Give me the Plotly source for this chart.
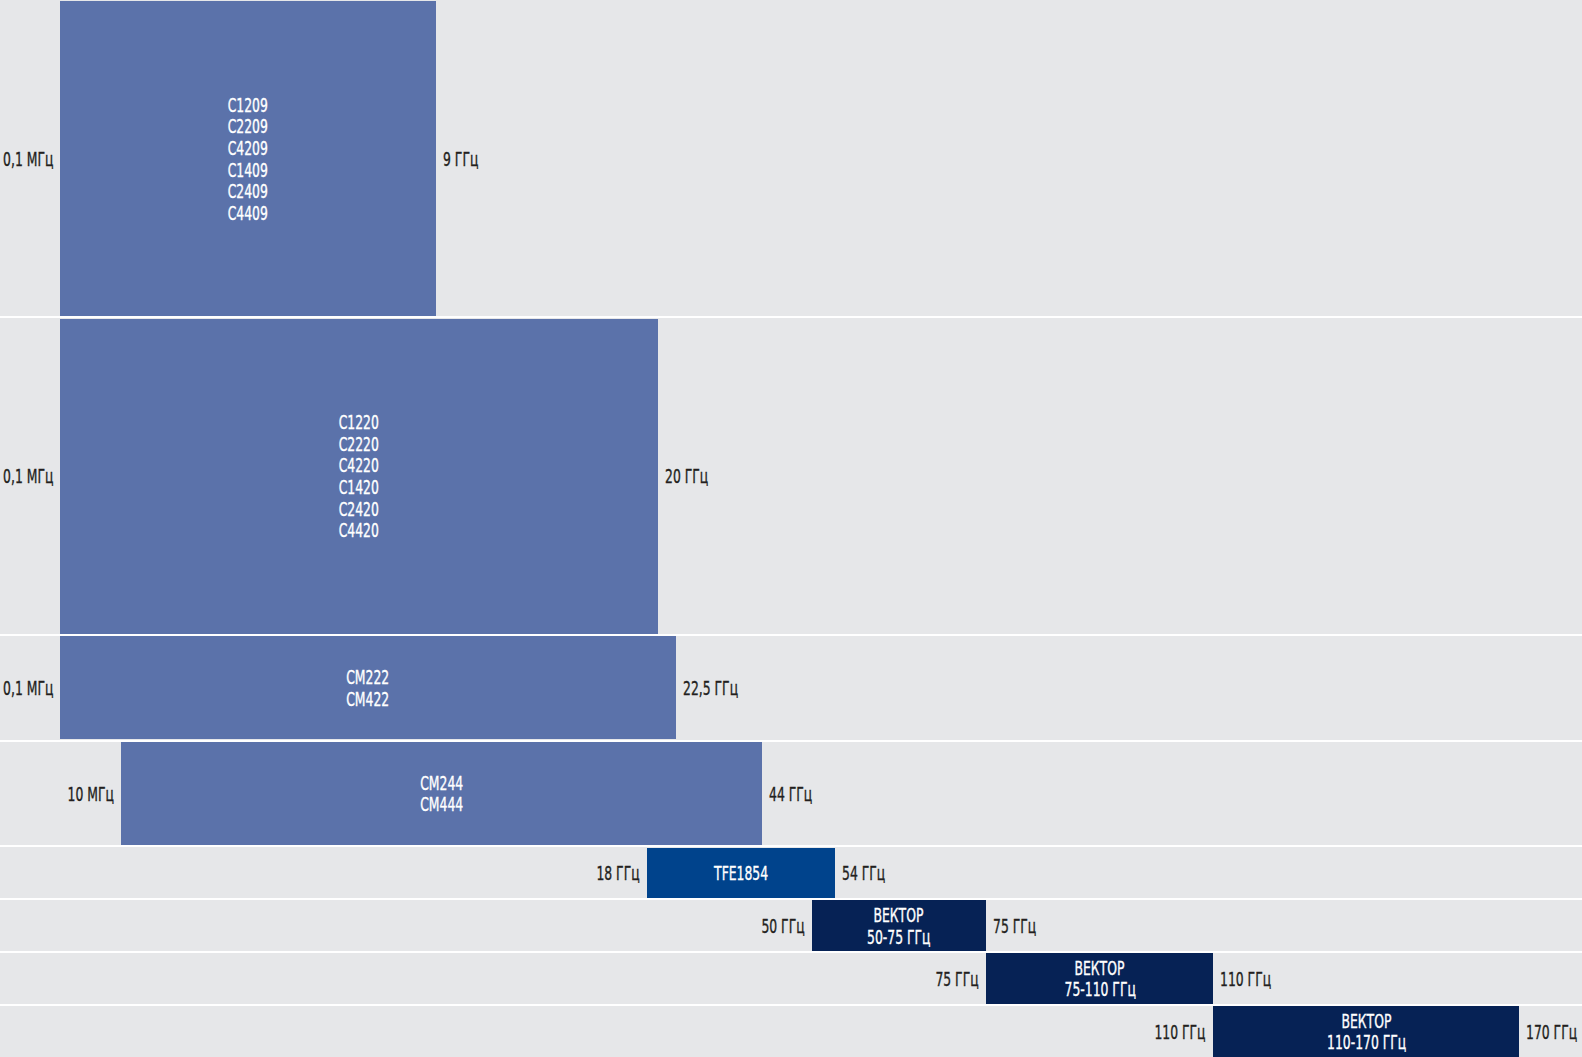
import json
import plotly.graph_objects as go

# ---- data ----
models = [
    "C1209<br>C2209<br>C4209<br>C1409<br>C2409<br>C4409",
    "C1220<br>C2220<br>C4220<br>C1420<br>C2420<br>C4420",
    "CM222<br>CM422",
    "CM244<br>CM444",
    "TFE1854",
    "ВЕКТОР<br>50-75 ГГц",
    "ВЕКТОР<br>75-110 ГГц",
    "ВЕКТОР<br>110-170 ГГц",
]
freq_low = ["0,1 МГц", "0,1 МГц", "0,1 МГц", "10 МГц", "18 ГГц", "50 ГГц", "75 ГГц", "110 ГГц"]
freq_high = ["9 ГГц", "20 ГГц", "22,5 ГГц", "44 ГГц", "54 ГГц", "75 ГГц", "110 ГГц", "170 ГГц"]
# band extents on the chart's (non-linear) layout scale
band_start = [59.5, 59.5, 59.5, 121, 647, 811.5, 986, 1213]
band_end = [436, 658, 676, 762, 835, 986, 1213, 1519]
group = ["base", "base", "base", "base", "tfe", "vektor", "vektor", "vektor"]

# ---- layout / style ----
ROW_UNITS = [6, 6, 2, 2, 1, 1, 1, 1]
COLORS = {"base": "#5b72aa", "tfe": "#00438c", "vektor": "#062255"}
BG = "#e6e7e9"
FONT = "DejaVu Sans Condensed, DejaVu Sans, sans-serif"
FSIZE = 19
SCALE_X = 0.725  # condense glyphs horizontally to match the narrow face
W, H = 1582, 1057
PX_PER_UNIT = 52.9
LINE_H = 21.6

centers, bounds = [], [0]
acc = 0
for u in ROW_UNITS:
    centers.append(acc + u / 2)
    acc += u
    bounds.append(acc)

widths = [u - 0.045 for u in ROW_UNITS]
lengths = [e - s for s, e in zip(band_start, band_end)]

fig = go.Figure(
    go.Bar(
        orientation="h",
        y=centers,
        x=lengths,
        base=band_start,
        width=widths,
        marker=dict(color=[COLORS[g] for g in group], line=dict(width=0)),
        hoverinfo="skip",
    )
)

annotations = []
origins = []
for i in range(len(models)):
    lines = models[i].split("<br>")
    n = len(lines)
    mid = (band_start[i] + band_end[i]) / 2
    for k, ln in enumerate(lines):
        annotations.append(dict(
            x=mid, y=centers[i], xref="x", yref="y", text=ln, showarrow=False,
            xanchor="center", yanchor="middle", yshift=-(k - (n - 1) / 2) * LINE_H,
            font=dict(family=FONT, size=FSIZE, color="white"),
        ))
        origins.append("center")
    annotations.append(dict(
        x=band_start[i], y=centers[i], xref="x", yref="y", text=freq_low[i],
        showarrow=False, xanchor="right", yanchor="middle", xshift=-5,
        font=dict(family=FONT, size=FSIZE, color="#231f20"),
    ))
    origins.append("right")
    annotations.append(dict(
        x=band_end[i], y=centers[i], xref="x", yref="y", text=freq_high[i],
        showarrow=False, xanchor="left", yanchor="middle", xshift=5,
        font=dict(family=FONT, size=FSIZE, color="#231f20"),
    ))
    origins.append("left")

fig.update_layout(
    width=W, height=H,
    margin=dict(l=0, r=0, t=0, b=0, pad=0),
    paper_bgcolor=BG,
    plot_bgcolor=BG,
    showlegend=False,
    bargap=0,
    annotations=annotations,
    xaxis=dict(range=[0, W], showgrid=False, zeroline=False, showticklabels=False,
               fixedrange=True),
    yaxis=dict(range=[H / PX_PER_UNIT, 0], tickvals=bounds, showgrid=True,
               gridcolor="#ffffff", gridwidth=2, zeroline=False,
               showticklabels=False, fixedrange=True),
)

post = """
document.documentElement.style.margin='0';
document.body.style.margin='0';
document.body.style.overflow='hidden';
document.body.style.background='%s';
var ORIG = %s;
var SX = %s;
var gd = document.getElementById('{plot_id}');
function condense(){
  var gs = gd.querySelectorAll('g.annotation');
  gs.forEach(function(g){
    var idx = parseInt(g.getAttribute('data-index'));
    var t = g.querySelector('text.annotation-text');
    if(!t) return;
    t.style.transformBox = 'fill-box';
    t.style.transformOrigin = (ORIG[idx] || 'center') + ' center';
    t.style.transform = 'scaleX(' + SX + ')';
    t.style.strokeWidth = '0.35px';
    t.style.stroke = t.style.fill || getComputedStyle(t).fill;
  });
}
condense();
if (gd.on) gd.on('plotly_afterplot', condense);
setTimeout(condense, 50);
setTimeout(condense, 300);
""" % (BG, json.dumps(origins), SCALE_X)

fig.write_html("out.html", config={"displayModeBar": False}, post_script=post)
